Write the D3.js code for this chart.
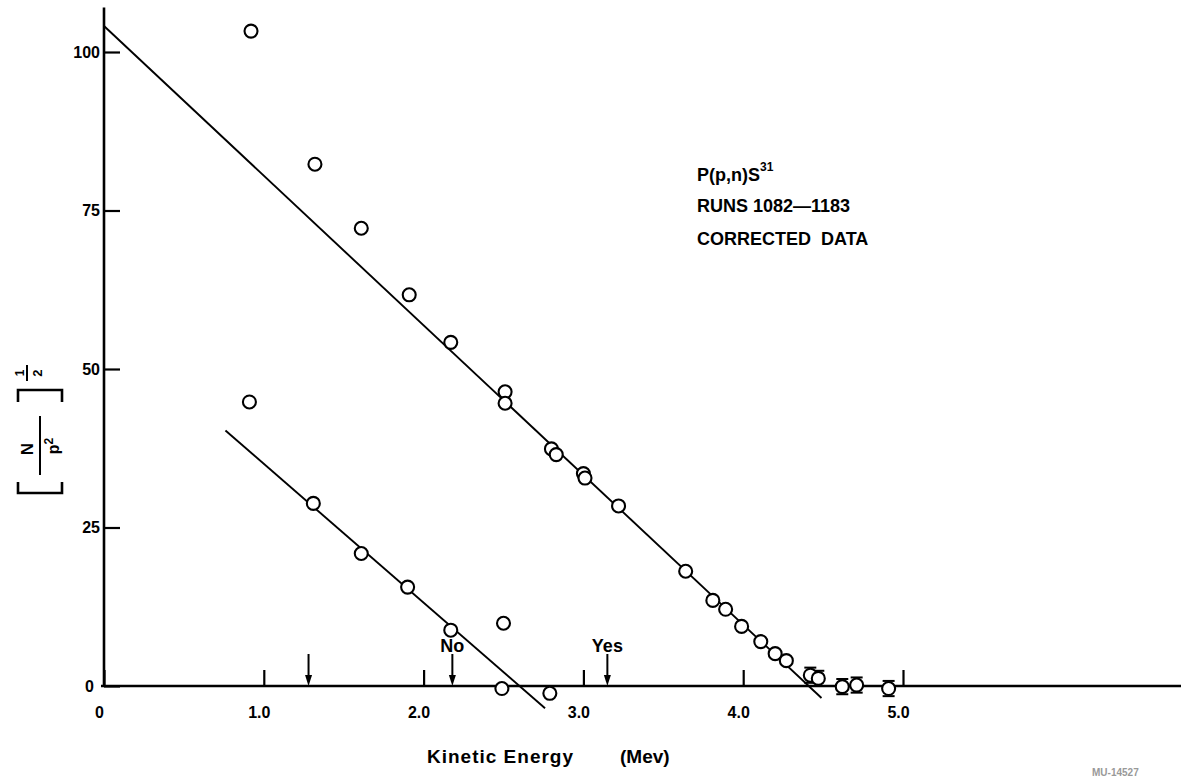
<!DOCTYPE html>
<html>
<head>
<meta charset="utf-8">
<script src="https://cdnjs.cloudflare.com/ajax/libs/d3/7.8.5/d3.min.js"></script>
<style>
body { margin: 0; background: #fff; }
svg { display: block; font-family: "Liberation Sans", Arial, sans-serif; font-weight: bold; }
.axis-line { stroke: #000; stroke-width: 2.6; }
.fit-line { stroke: #000; stroke-width: 1.9; fill: none; }
.point { fill: #fff; stroke: #000; stroke-width: 2.1; }
.errbar { stroke: #000; stroke-width: 2; }
.axis text { font-family: "Liberation Sans", Arial, sans-serif; font-weight: bold; fill: #000; }
</style>
</head>
<body>
<svg class="chart" width="1181" height="779"></svg>
<script>
// upper series (main run), energy in Mev and [N/p^2]^-1/2
var upperEnergy = [0.92, 1.32, 1.61, 1.91, 2.17, 2.51, 2.51, 2.80, 2.83, 3.00, 3.01, 3.22, 3.64, 3.81, 3.89, 3.99, 4.11, 4.20, 4.27, 4.42, 4.47, 4.62, 4.71, 4.91];
var upperValue  = [103.3, 82.3, 72.2, 61.7, 54.2, 46.4, 44.6, 37.4, 36.5, 33.5, 32.8, 28.4, 18.1, 13.5, 12.1, 9.4, 7.0, 5.1, 4.0, 1.7, 1.2, -0.1, 0.15, -0.4];
var upperError  = [0, 0, 0, 0, 0, 0, 0, 0, 0, 0, 0, 0, 0, 0, 0, 0, 0, 0, 0, 1.2, 1.2, 1.2, 1.2, 1.2];

// lower series
var lowerEnergy = [0.91, 1.31, 1.61, 1.90, 2.17, 2.50, 2.49, 2.79];
var lowerValue  = [44.8, 28.8, 20.9, 15.6, 8.8, 9.9, -0.4, -1.15];

// straight line fits (end points)
var upperFit = [[0, 104.1], [4.49, -1.9]];
var lowerFit = [[0.76, 40.3], [2.76, -3.5]];

// threshold arrows
var arrowEnergy = [1.28, 2.18, 3.15];
var arrowLabels = ["", "No", "Yes"];

var xTicks = [0, 1, 2, 3, 4, 5];
var yTicks = [0, 25, 50, 75, 100];
var xAxisEnd = 6.75, yAxisTop = 107;

var notes = ["P(p,n)S", "RUNS 1082\u20141183", "CORRECTED  DATA"];

var svg = d3.select("svg.chart");

var x = d3.scaleLinear().domain([0, 5]).range([104, 903]);
var y = d3.scaleLinear().domain([0, 100]).range([686, 52]);

// axis lines
svg.append("line").attr("class", "axis-line")
    .attr("x1", x(0) - 3).attr("x2", x(xAxisEnd))
    .attr("y1", y(0)).attr("y2", y(0));
svg.append("line").attr("class", "axis-line")
    .attr("x1", x(0)).attr("x2", x(0))
    .attr("y1", y(0)).attr("y2", y(yAxisTop));

var xAxis = d3.axisBottom(x)
    .tickValues(xTicks)
    .tickSizeInner(-16)
    .tickSizeOuter(0)
    .tickPadding(21)
    .tickFormat(function(d) { return d === 0 ? "0" : d.toFixed(1); });

var gx = svg.append("g").attr("class", "axis")
    .attr("transform", "translate(0," + y(0) + ")")
    .call(xAxis);
gx.select(".domain").remove();
gx.selectAll(".tick line").attr("stroke", "#000").attr("stroke-width", 2.2);
gx.selectAll(".tick text").attr("font-size", 16).attr("dx", -5);

var yAxis = d3.axisLeft(y)
    .tickValues(yTicks)
    .tickSizeInner(-16)
    .tickSizeOuter(0)
    .tickPadding(4);

var gy = svg.append("g").attr("class", "axis")
    .attr("transform", "translate(" + x(0) + ",0)")
    .call(yAxis);
gy.select(".domain").remove();
gy.selectAll(".tick line").attr("stroke", "#000").attr("stroke-width", 2.2);
gy.selectAll(".tick text").attr("font-size", 16);
gy.selectAll(".tick").filter(function(d) { return d === 0; }).select("text").attr("dx", -6);

// fitted lines
var line = d3.line()
    .x(function(d) { return x(d[0]); })
    .y(function(d) { return y(d[1]); });

svg.append("path").datum(upperFit).attr("class", "fit-line").attr("d", line);
svg.append("path").datum(lowerFit).attr("class", "fit-line").attr("d", line);

// arrows
var arrows = svg.selectAll("g.arrow")
    .data(arrowEnergy)
    .enter().append("g")
    .attr("class", "arrow")
    .attr("transform", function(d) { return "translate(" + x(d) + "," + y(0) + ")"; });

arrows.append("line")
    .attr("x1", 0).attr("x2", 0)
    .attr("y1", -32).attr("y2", -6)
    .attr("stroke", "#000").attr("stroke-width", 2);
arrows.append("path")
    .attr("d", "M-3.5,-11L3.5,-11L0,0Z")
    .attr("fill", "#000");
arrows.append("text")
    .attr("y", -34)
    .attr("text-anchor", "middle")
    .attr("font-size", 18)
    .text(function(d, i) { return arrowLabels[i]; });

// error bars on the tail points
var upperPoints = upperEnergy.map(function(e, i) {
    return { e: e, v: upperValue[i], err: upperError[i] };
});
var lowerPoints = lowerEnergy.map(function(e, i) {
    return { e: e, v: lowerValue[i] };
});

var eb = svg.selectAll("g.errbar")
    .data(upperPoints.filter(function(d) { return d.err > 0; }))
    .enter().append("g");
eb.append("line").attr("class", "errbar")
    .attr("x1", function(d) { return x(d.e) - 6; })
    .attr("x2", function(d) { return x(d.e) + 6; })
    .attr("y1", function(d) { return y(d.v + d.err); })
    .attr("y2", function(d) { return y(d.v + d.err); });
eb.append("line").attr("class", "errbar")
    .attr("x1", function(d) { return x(d.e) - 6; })
    .attr("x2", function(d) { return x(d.e) + 6; })
    .attr("y1", function(d) { return y(d.v - d.err); })
    .attr("y2", function(d) { return y(d.v - d.err); });

svg.selectAll("circle.upper")
    .data(upperPoints)
    .enter().append("circle")
    .attr("class", "point upper")
    .attr("cx", function(d) { return x(d.e); })
    .attr("cy", function(d) { return y(d.v); })
    .attr("r", 6.5);

svg.selectAll("circle.lower")
    .data(lowerPoints)
    .enter().append("circle")
    .attr("class", "point lower")
    .attr("cx", function(d) { return x(d.e); })
    .attr("cy", function(d) { return y(d.v); })
    .attr("r", 6.5);

// reaction note
var note = svg.append("g").attr("transform", "translate(697,181)");
notes.forEach(function(t, i) {
    var tx = note.append("text")
        .attr("x", 0)
        .attr("y", i === 0 ? 0 : (i === 1 ? 31 : 64))
        .attr("font-size", 18)
        .style("white-space", "pre")
        .text(t);
    if (i === 0) {
        tx.append("tspan").attr("dy", -10).attr("font-size", 12).text("31");
    }
});

// x axis title
svg.append("text")
    .attr("x", 427).attr("y", 763)
    .attr("font-size", 19)
    .attr("letter-spacing", 1)
    .text("Kinetic Energy");
svg.append("text")
    .attr("x", 620).attr("y", 763)
    .attr("font-size", 19)
    .text("(Mev)");

// y axis title: [N / p^2]^-1/2, rotated
var yl = svg.append("g").attr("transform", "translate(40,440) rotate(-90)");
yl.append("path")
    .attr("d", "M-42,-22L-53,-22L-53,22L-42,22")
    .attr("fill", "none").attr("stroke", "#000").attr("stroke-width", 2.6);
yl.append("path")
    .attr("d", "M38,-22L50,-22L50,22L38,22")
    .attr("fill", "none").attr("stroke", "#000").attr("stroke-width", 2.6);
yl.append("line")
    .attr("x1", -35).attr("x2", 24).attr("y1", 0).attr("y2", 0)
    .attr("stroke", "#000").attr("stroke-width", 2);
yl.append("text")
    .attr("x", -9).attr("y", -7)
    .attr("text-anchor", "middle")
    .attr("font-size", 17)
    .text("N");
var den = yl.append("text")
    .attr("x", -6).attr("y", 19)
    .attr("text-anchor", "middle")
    .attr("font-size", 16)
    .text("p");
den.append("tspan").attr("dy", -6).attr("font-size", 12).text("2");
yl.append("line")
    .attr("x1", 59).attr("x2", 75).attr("y1", -13).attr("y2", -13)
    .attr("stroke", "#000").attr("stroke-width", 2);
yl.append("text")
    .attr("x", 67).attr("y", -16)
    .attr("text-anchor", "middle")
    .attr("font-size", 12)
    .text("1");
yl.append("text")
    .attr("x", 67).attr("y", 2)
    .attr("text-anchor", "middle")
    .attr("font-size", 13)
    .text("2");

// figure number at the bottom edge
svg.append("text")
    .attr("x", 1092).attr("y", 776)
    .attr("font-size", 10)
    .attr("fill", "#999")
    .text("MU-14527");
</script>
</body>
</html>
